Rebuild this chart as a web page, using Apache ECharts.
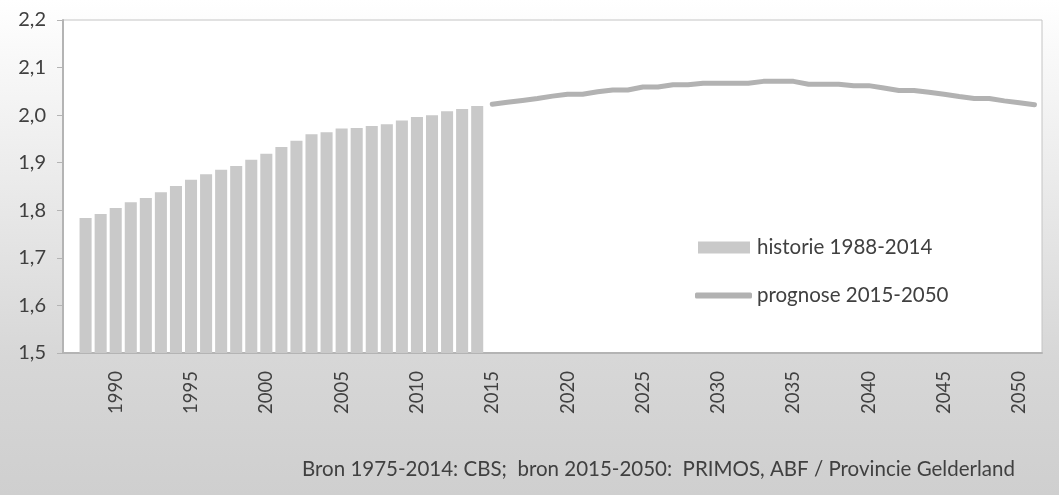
<!DOCTYPE html>
<html>
<head>
<meta charset="utf-8">
<script src="https://cdn.jsdelivr.net/npm/echarts@6/dist/echarts.min.js"></script>
<style>
  html, body { margin: 0; padding: 0; }
  #main { width: 1059px; height: 495px; }
</style>
</head>
<body>
<div id="main"></div>
<script>
// categorieen: jaren (1987 en 2051 als lege randen)
const firstYear = 1987;
const lastYear = 2051;

// historie 1988-2014
const histYears = [1988, 1989, 1990, 1991, 1992, 1993, 1994, 1995, 1996, 1997, 1998, 1999, 2000,
  2001, 2002, 2003, 2004, 2005, 2006, 2007, 2008, 2009, 2010, 2011, 2012, 2013, 2014];
const histValues = [1.784, 1.792, 1.805, 1.817, 1.826, 1.838, 1.851, 1.864, 1.876, 1.885, 1.893, 1.906, 1.919,
  1.933, 1.946, 1.960, 1.964, 1.972, 1.973, 1.977, 1.981, 1.989, 1.996, 2.000, 2.008, 2.013, 2.019];

// prognose 2015-2050
const progYears = [2015, 2016, 2017, 2018, 2019, 2020, 2021, 2022, 2023, 2024, 2025, 2026, 2027, 2028,
  2029, 2030, 2031, 2032, 2033, 2034, 2035, 2036, 2037, 2038, 2039, 2040, 2041, 2042, 2043, 2044,
  2045, 2046, 2047, 2048, 2049, 2050, 2051];
const progValues = [2.023, 2.027, 2.031, 2.035, 2.040, 2.044, 2.044, 2.049, 2.053, 2.053, 2.059, 2.059, 2.064, 2.064,
  2.067, 2.067, 2.067, 2.067, 2.071, 2.071, 2.071, 2.065, 2.065, 2.065, 2.062, 2.062, 2.057, 2.052, 2.052, 2.048,
  2.044, 2.039, 2.035, 2.035, 2.030, 2.026, 2.022];

const yTicks = ["1,5", "1,6", "1,7", "1,8", "1,9", "2,0", "2,1", "2,2"];

const categories = [];
for (let y = firstYear; y <= lastYear; y++) categories.push(String(y));

function align(years, values) {
  const out = categories.map(() => null);
  years.forEach((y, i) => { out[y - firstYear] = values[i]; });
  return out;
}

const FONT = "Lato, 'Open Sans', sans-serif";
const TXT = "#404040";
const chart = echarts.init(document.getElementById("main"));

chart.setOption({
  animation: false,
  backgroundColor: {
    type: "linear", x: 0, y: 0, x2: 0, y2: 1,
    colorStops: [
      { offset: 0, color: "#ffffff" },
      { offset: 0.72, color: "#d7d7d7" },
      { offset: 1, color: "#cfcfcf" }
    ]
  },
  grid: {
    left: 63, top: 20, right: 17, bottom: 142,
    show: true, backgroundColor: "#ffffff", borderColor: "#c4c4c4", borderWidth: 1
  },
  title: {
    text: "Bron 1975-2014: CBS;  bron 2015-2050:  PRIMOS, ABF / Provincie Gelderland",
    left: 297, top: 454,
    textStyle: { fontFamily: FONT, fontSize: 20.5, fontWeight: "normal", color: TXT }
  },
  legend: [
    {
      left: 698, top: 237, padding: 0,
      itemWidth: 52, itemHeight: 12,
      textStyle: { fontFamily: FONT, fontSize: 20.5, color: TXT, padding: [0, 0, 0, 2] },
      data: [{ name: "historie 1988-2014", icon: "rect" }]
    },
    {
      left: 695, top: 285, padding: 0,
      itemWidth: 57, itemHeight: 6,
      textStyle: { fontFamily: FONT, fontSize: 20.5, color: TXT, padding: [0, 0, 0, 0] },
      data: [{ name: "prognose 2015-2050", icon: "roundRect" }]
    }
  ],
  xAxis: {
    type: "category",
    data: categories,
    boundaryGap: true,
    axisLine: { lineStyle: { color: "#b4b4b4", width: 2 } },
    axisTick: { show: false },
    axisLabel: {
      rotate: 90,
      margin: 18,
      fontFamily: FONT, fontSize: 18.5, color: TXT,
      interval: (idx, val) => Number(val) % 5 === 0
    },
    splitLine: { show: false }
  },
  yAxis: {
    type: "value",
    min: 1.5, max: 2.2, interval: 0.1,
    axisLine: { show: true, lineStyle: { color: "#b4b4b4", width: 2 } },
    axisTick: { show: true, inside: false, length: 6, lineStyle: { color: "#b4b4b4", width: 1 } },
    axisLabel: {
      margin: 17,
      fontFamily: FONT, fontSize: 20, color: TXT,
      formatter: v => yTicks[Math.round((v - 1.5) * 10)]
    },
    splitLine: { show: false }
  },
  series: [
    {
      name: "historie 1988-2014",
      type: "bar",
      data: align(histYears, histValues),
      barCategoryGap: "20%",
      itemStyle: { color: "#c9c9c9" }
    },
    {
      name: "prognose 2015-2050",
      type: "line",
      data: align(progYears, progValues),
      symbol: "none",
      connectNulls: false,
      itemStyle: { color: "#b2b2b2" },
      lineStyle: { color: "#b2b2b2", width: 5, cap: "round", join: "round" }
    }
  ]
});
</script>
</body>
</html>
